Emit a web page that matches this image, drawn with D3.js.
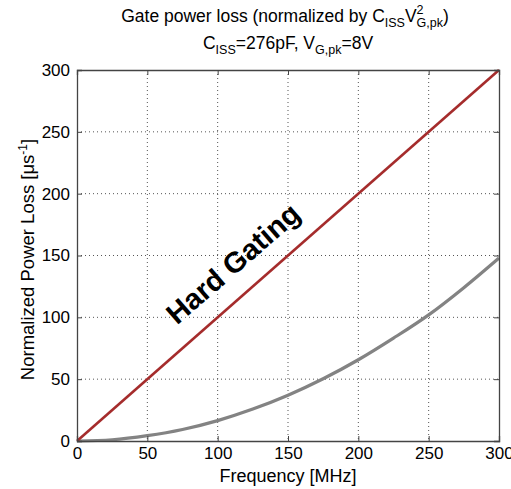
<!DOCTYPE html>
<html>
<head>
<meta charset="utf-8">
<script src="https://cdn.jsdelivr.net/npm/d3@7"></script>
<style>
  body { margin: 0; background: #fff; }
  svg { font-family: "Liberation Sans", Arial, sans-serif; }
  .grid line { stroke: #555; stroke-dasharray: 1,3; stroke-width: 1; }
</style>
</head>
<body>
<svg id="chart"></svg>
<script>
// frequency axis (MHz) and readings of the two curves
const freq = [0, 25, 50, 75, 100, 125, 150, 175, 200, 225, 250, 275, 300];
const softLoss = [0, 1.0, 4.3, 9.3, 16.5, 25.8, 37, 50.3, 65.7, 83.2, 102, 124, 148];
const hardFreq = [0, 300];
const hardLoss = [0, 300];
const xTicks = [0, 50, 100, 150, 200, 250, 300];
const yTicks = [0, 50, 100, 150, 200, 250, 300];

const W = 511, H = 489;
const margin = {top: 70, right: 12, bottom: 48, left: 77};
const width = W - margin.left - margin.right;
const height = H - margin.top - margin.bottom;

const svg = d3.select('#chart').attr('width', W).attr('height', H);
const chart = svg.append('g').attr('transform', `translate(${margin.left},${margin.top})`);

const x = d3.scaleLinear().domain([0, 300]).range([0, width]);
const y = d3.scaleLinear().domain([0, 300]).range([height, 0]);

// dotted grid
chart.append('g').attr('class', 'grid')
  .selectAll('line.v').data(xTicks.slice(1, -1)).join('line')
  .attr('x1', d => x(d)).attr('x2', d => x(d)).attr('y1', 0).attr('y2', height);
chart.append('g').attr('class', 'grid')
  .selectAll('line.h').data(yTicks.slice(1, -1)).join('line')
  .attr('y1', d => y(d)).attr('y2', d => y(d)).attr('x1', 0).attr('x2', width);

const line = d3.line().x(d => x(d[0])).y(d => y(d[1])).curve(d3.curveMonotoneX);

chart.append('path')
  .datum(freq.map((f, i) => [f, softLoss[i]]))
  .attr('d', line).attr('fill', 'none')
  .attr('stroke', '#838383').attr('stroke-width', 3.2);

chart.append('path')
  .datum(hardFreq.map((f, i) => [f, hardLoss[i]]))
  .attr('d', line).attr('fill', 'none')
  .attr('stroke', '#a52c2c').attr('stroke-width', 2.6);

// axes, ticks inward on all four sides
const tickLen = 5;
const xAxisG = chart.append('g').attr('transform', `translate(0,${height})`)
  .call(d3.axisBottom(x).tickValues(xTicks).tickSize(-tickLen).tickPadding(6));
chart.append('g')
  .call(d3.axisTop(x).tickValues(xTicks).tickSize(-tickLen).tickFormat(''));
const yAxisG = chart.append('g')
  .call(d3.axisLeft(y).tickValues(yTicks).tickSize(-tickLen).tickPadding(7));
chart.append('g').attr('transform', `translate(${width},0)`)
  .call(d3.axisRight(y).tickValues(yTicks).tickSize(-tickLen).tickFormat(''));

chart.selectAll('.domain').attr('stroke', '#444').attr('stroke-width', 1.3);
chart.selectAll('.tick line').attr('stroke', '#444');
chart.selectAll('.tick text').attr('font-size', 17).attr('fill', '#000')
  .attr('font-family', '"Liberation Sans", Arial, sans-serif');
xAxisG.selectAll('.tick text').attr('dy', '0.72em');

// annotation along the hard gating line
chart.append('text')
  .attr('transform', `translate(${x(112)},${y(142)}) rotate(-41)`)
  .attr('text-anchor', 'middle').attr('dominant-baseline', 'middle')
  .attr('font-size', 29).attr('font-weight', 'bold')
  .text('Hard Gating');

// axis titles
svg.append('text')
  .attr('x', margin.left + width / 2).attr('y', 482)
  .attr('text-anchor', 'middle').attr('font-size', 18)
  .text('Frequency [MHz]');

const yl = svg.append('text')
  .attr('transform', `translate(34,${margin.top + height / 2 + 4}) rotate(-90)`)
  .attr('text-anchor', 'middle').attr('font-size', 18.5);
yl.append('tspan').text('Normalized Power Loss [\u03bcs');
yl.append('tspan').attr('dy', -7).attr('font-size', 12).text('-1');
yl.append('tspan').attr('dy', 7).text(']');

// title
const t1 = svg.append('text')
  .attr('x', margin.left + width / 2 - 3).attr('y', 22)
  .attr('text-anchor', 'middle').attr('font-size', 17.5);
t1.append('tspan').text('Gate power loss (normalized by C');
t1.append('tspan').attr('dy', 5).attr('font-size', 12.5).text('ISS');
t1.append('tspan').attr('dy', -5).text('V');
t1.append('tspan').attr('dy', -8).attr('font-size', 12.5).text('2');
t1.append('tspan').attr('dx', -7).attr('dy', 13).attr('font-size', 12.5).text('G,pk');
t1.append('tspan').attr('dy', -5).text(')');

const t2 = svg.append('text')
  .attr('x', margin.left + width / 2).attr('y', 49)
  .attr('text-anchor', 'middle').attr('font-size', 17.5);
t2.append('tspan').text('C');
t2.append('tspan').attr('dy', 5).attr('font-size', 12.5).text('ISS');
t2.append('tspan').attr('dy', -5).text('=276pF, V');
t2.append('tspan').attr('dy', 5).attr('font-size', 12.5).text('G,pk');
t2.append('tspan').attr('dy', -5).text('=8V');
</script>
</body>
</html>
